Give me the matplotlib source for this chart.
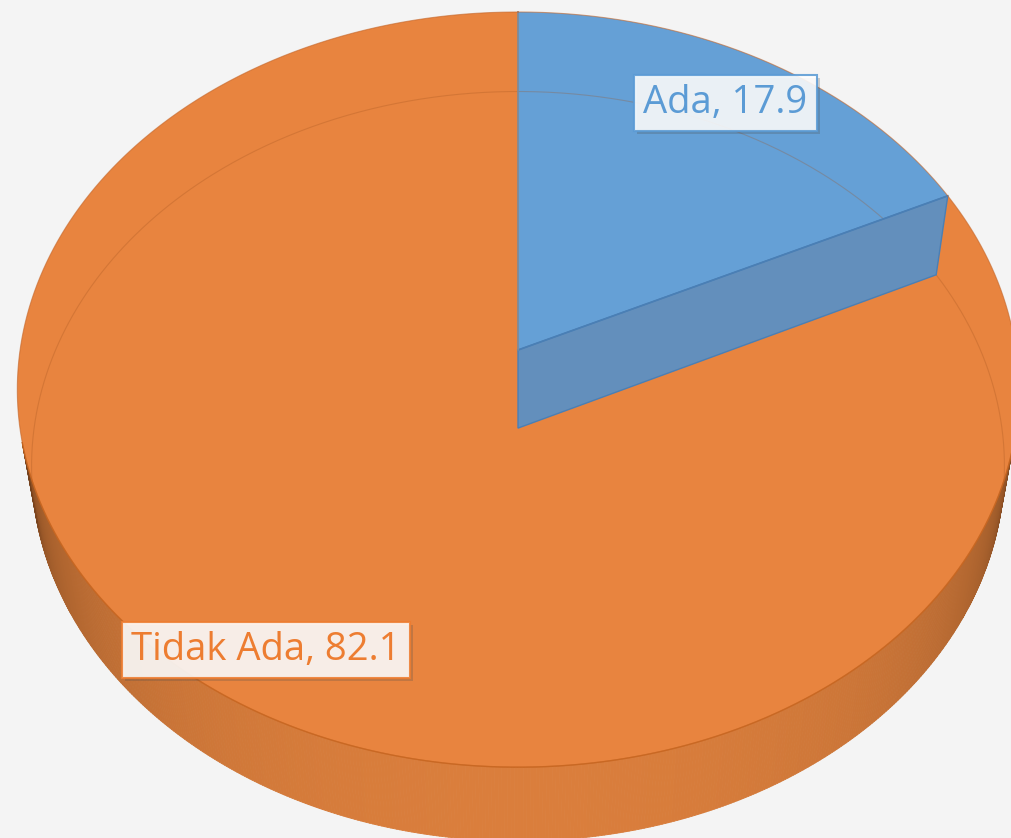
import numpy as np
import matplotlib
matplotlib.use("Agg")
import matplotlib.pyplot as plt
from matplotlib.patches import Polygon
from matplotlib.collections import PolyCollection
import matplotlib.patheffects as pe

# ---- data ----
categories = ["Ada", "Tidak Ada"]
values = [17.9, 82.1]

# ---- style ----
top_colors = ["#65A0D6", "#E8843F"]
cut_colors = ["#638FBC", "#D0743A"]
edge_colors = ["#4A7FB5", "#C8682A"]
text_colors = ["#5B9BD5", "#ED7D31"]
box_edges = ["#5B9BD5", "#ED7D31"]
label_radius = [0.84, 0.876]
BG = "#F4F4F4"

# ---- camera (perspective view of a unit-radius disc) ----
SIN_T = 0.75
COS_T = np.sqrt(1 - SIN_T ** 2)
DIST = 6.31
SCALE = 3142
CX, CY = 518, 350
DEPTH = 0.244
W, H = 1011, 838


def project(X, Y, Z):
    X = np.asarray(X, float)
    Y = np.asarray(Y, float)
    Z = np.asarray(Z, float)
    yc = Y * SIN_T + Z * COS_T
    zc = DIST + Y * COS_T - Z * SIN_T
    return CX + SCALE * X / zc, CY - SCALE * yc / zc


def rim(phi_deg, z):
    p = np.radians(phi_deg)
    return project(np.sin(p), np.cos(p), np.full_like(p, z, dtype=float))


def facing(phi_deg, z=0.0):
    """cosine between outward wall normal and direction to the camera"""
    p = np.radians(phi_deg)
    cam = np.array([0.0, -DIST * COS_T, DIST * SIN_T])
    px, py = np.sin(p), np.cos(p)
    vx, vy, vz = cam[0] - px, cam[1] - py, cam[2] - z
    n = np.sqrt(vx ** 2 + vy ** 2 + vz ** 2)
    return (px * vx + py * vy) / n


fig = plt.figure(figsize=(W / 100, H / 100), dpi=100, facecolor=BG)
ax = fig.add_axes([0, 0, 1, 1])
ax.set_xlim(0, W)
ax.set_ylim(H, 0)
ax.axis("off")
ax.set_facecolor(BG)

total = sum(values)
bounds = np.concatenate([[0], np.cumsum(values) / total * 360.0])

# ---- outer wall (only the part facing the camera) ----
front_col = np.array([218, 126, 60]) / 255
dark_col = np.array([92, 52, 22]) / 255
f_max = facing(np.array([180.0]))[0]
quads, cols = [], []
for i, (a0, a1) in enumerate(zip(bounds[:-1], bounds[1:])):
    phis = np.linspace(a0, a1, int((a1 - a0) * 3) + 2)
    for p0, p1 in zip(phis[:-1], phis[1:]):
        pm = 0.5 * (p0 + p1)
        f = facing(np.array([pm]))[0]
        if f <= 0:
            continue
        g = (f / f_max) ** 0.33
        base = np.array(matplotlib.colors.to_rgb(cut_colors[i]))
        base = front_col if i == 1 else base
        col = dark_col + (base - dark_col) * g
        xt, yt = rim(np.array([p0, p1]), 0.0)
        xb, yb = rim(np.array([p1, p0]), -DEPTH)
        quads.append(np.column_stack([np.r_[xt, xb], np.r_[yt, yb]]))
        cols.append(col)
ax.add_collection(PolyCollection(quads, facecolors=cols, edgecolors=cols,
                                 linewidths=0.6, zorder=1))

# ---- top faces ----
cx0, cy0 = project(0, 0, 0)
for i, (a0, a1) in enumerate(zip(bounds[:-1], bounds[1:])):
    phis = np.linspace(a0, a1, 400)
    xs, ys = rim(phis, 0.0)
    pts = np.column_stack([np.r_[cx0, xs], np.r_[cy0, ys]])
    ax.add_patch(Polygon(pts, closed=True, facecolor=top_colors[i],
                         edgecolor="none", zorder=2))

# faint base outline seen through the top
phis = np.linspace(-104, 104, 500)
xs, ys = rim(phis, -DEPTH)
ax.plot(xs, ys, color="#A0521E", lw=0.8, alpha=0.28, zorder=3)

# ---- cut face of the small slice ----
a = bounds[1]
p = np.radians(a)
X, Y = np.sin(p), np.cos(p)
fx, fy = project([0, X, X, 0], [0, Y, Y, 0], [0, 0, -DEPTH, -DEPTH])
ax.add_patch(Polygon(np.column_stack([fx, fy]), closed=True,
                     facecolor=cut_colors[0], edgecolor=edge_colors[0],
                     lw=1.0, zorder=4))
ax.plot(fx[:2], fy[:2], color=edge_colors[0], lw=1.2, zorder=5)

# ---- edges ----
# boundary between the slices at the back
bx, by = project([0, 0], [0, 1], [0, 0])
ax.plot(bx, by, color="#7D8A99", lw=1.2, zorder=5)
# top rim
phis = np.linspace(0, 360, 900)
xs, ys = rim(phis, 0.0)
ax.plot(xs, ys, color="#C4662A", lw=0.8, alpha=0.6, zorder=5)
phis = np.linspace(104, 256, 400)
xs, ys = rim(phis, 0.0)
ax.plot(xs, ys, color="#C8661F", lw=1.0, alpha=0.8, zorder=5)

# ---- labels ----
for i, (cat, val) in enumerate(zip(categories, values)):
    mid = np.radians(0.5 * (bounds[i] + bounds[i + 1]))
    r = label_radius[i]
    lx, ly = project(r * np.sin(mid), r * np.cos(mid), 0.0)
    t = ax.text(float(lx), float(ly), f"{cat}, {val}", fontsize=27.5,
                family=["Open Sans", "DejaVu Sans"], color=text_colors[i],
                ha="center", va="center", zorder=10,
                bbox=dict(boxstyle="square,pad=0.24", facecolor="white",
                          alpha=0.88, edgecolor=box_edges[i], linewidth=1.5))
    t.get_bbox_patch().set_path_effects(
        [pe.SimplePatchShadow(offset=(2, -2), alpha=0.25), pe.Normal()])

fig.savefig("out.png", dpi=100, facecolor=BG)
